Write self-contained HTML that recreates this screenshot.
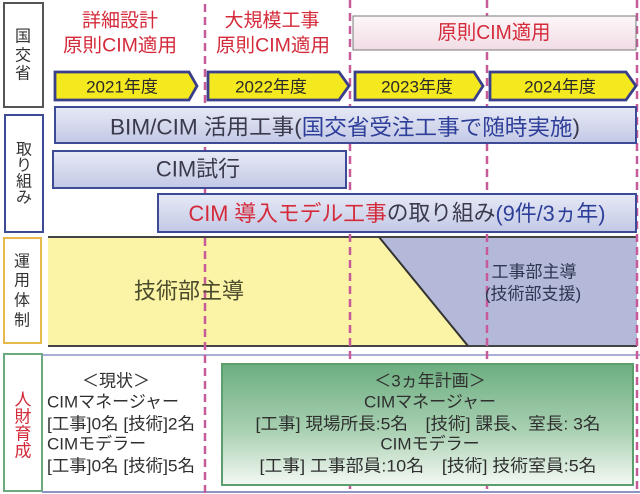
<!DOCTYPE html>
<html><head><meta charset="utf-8"><style>
html,body{margin:0;padding:0;background:#fff;}
svg{display:block;}
text{font-family:"Liberation Sans","Noto Sans CJK JP",sans-serif;}
</style></head><body>
<svg width="640" height="494" viewBox="0 0 640 494" xmlns="http://www.w3.org/2000/svg">
<defs>
<linearGradient id="bar" x1="0" y1="0" x2="0" y2="1">
<stop offset="0" stop-color="#e6e9f5"/><stop offset="1" stop-color="#c3c9e6"/>
</linearGradient>
<linearGradient id="pink" x1="0" y1="0" x2="0" y2="1">
<stop offset="0" stop-color="#fdf7f9"/><stop offset="1" stop-color="#f1dce5"/>
</linearGradient>
<linearGradient id="green" x1="0" y1="0" x2="0" y2="1">
<stop offset="0" stop-color="#6cae80"/><stop offset="0.55" stop-color="#a9d0b2"/><stop offset="1" stop-color="#f3f9f3"/>
</linearGradient>
</defs>
<rect width="640" height="494" fill="#fff"/>

<!-- left label boxes -->
<rect x="4" y="3" width="39" height="104" fill="#fff" stroke="#555" stroke-width="2"/>
<rect x="5" y="115" width="38" height="117" fill="#fff" stroke="#3d4a96" stroke-width="2"/>
<rect x="4" y="238" width="37" height="105" fill="#fff" stroke="#e7b94a" stroke-width="2"/>
<rect x="4" y="354" width="38" height="137" fill="#fff" stroke="#6aaa7c" stroke-width="2"/>

<!-- 運用体制 area -->
<polygon points="48,237 379,237 468,346 48,346" fill="#fbf3a5"/>
<polygon points="379,237 637,237 637,346 468,346" fill="#b4b9d9"/>
<line x1="48" y1="237" x2="637" y2="237" stroke="#444" stroke-width="2"/>
<line x1="48" y1="346" x2="637" y2="346" stroke="#444" stroke-width="2"/>
<line x1="379" y1="237" x2="468" y2="346" stroke="#333" stroke-width="2"/>

<!-- bottom section lines -->
<line x1="42" y1="355" x2="640" y2="355" stroke="#8f93c6" stroke-width="1.5"/>
<line x1="42" y1="492" x2="640" y2="492" stroke="#8f93c6" stroke-width="2"/>

<!-- dashed lines -->
<g stroke="#c75a99" stroke-width="2.5" stroke-dasharray="8,5">
<line x1="205" y1="4" x2="205" y2="494"/>
<line x1="350" y1="0" x2="350" y2="494"/>
<line x1="487" y1="0" x2="487" y2="494"/>
<line x1="637" y1="0" x2="637" y2="494"/>
</g>

<!-- pink box -->
<rect x="353" y="16" width="283" height="34" fill="url(#pink)" stroke="#7a7a7a" stroke-width="1"/>

<!-- arrows -->
<g fill="#f4e81f" stroke="#3a3f8c" stroke-width="2.8" stroke-linejoin="miter">
<polygon points="55,72 189,72 197,86 189,100 55,100"/>
<polygon points="208,72 339,72 349,86 339,100 208,100"/>
<polygon points="355,72 474,72 483,86 474,100 355,100"/>
<polygon points="490,72 626,72 636,86 626,100 490,100"/>
</g>

<!-- bars -->
<g fill="url(#bar)" stroke="#3d4a96" stroke-width="2">
<rect x="55" y="107" width="581" height="36"/>
<rect x="53" y="151" width="293" height="37"/>
<rect x="158" y="194" width="478" height="38"/>
</g>

<!-- green box -->
<rect x="222" y="364" width="411" height="121" fill="url(#green)" stroke="#5c9e6e" stroke-width="2"/>

<!-- texts -->
<g text-anchor="middle" dominant-baseline="central">
<!-- left labels -->
<g font-size="16" fill="#333">
<text x="23" y="37">国</text><text x="23" y="56">交</text><text x="23" y="74">省</text>
</g>
<g font-size="16" fill="#333">
<text x="24" y="150">取</text><text x="24" y="166">り</text><text x="24" y="182">組</text><text x="24" y="198">み</text>
</g>
<g font-size="16" fill="#333">
<text x="22" y="262">運</text><text x="22" y="281">用</text><text x="22" y="301">体</text><text x="22" y="321">制</text>
</g>
<g font-size="17" fill="#d42a3a">
<text x="23" y="400">人</text><text x="23" y="417">財</text><text x="23" y="434">育</text><text x="23" y="451">成</text>
</g>

<!-- red titles -->
<g font-size="19" fill="#d42a3a">
<text x="120" y="21">詳細設計</text>
<text x="120" y="46" textLength="114" lengthAdjust="spacingAndGlyphs">原則CIM適用</text>
<text x="272" y="21">大規模工事</text>
<text x="273" y="46" textLength="114" lengthAdjust="spacingAndGlyphs">原則CIM適用</text>
<text x="494" y="33" font-size="20" textLength="113" lengthAdjust="spacingAndGlyphs">原則CIM適用</text>
</g>

<!-- years -->
<g font-size="17" fill="#2a2a2a">
<text x="122" y="87">2021年度</text>
<text x="271" y="87">2022年度</text>
<text x="417" y="87">2023年度</text>
<text x="560" y="87">2024年度</text>
</g>

<!-- bar texts -->
<text x="345" y="127" font-size="22" fill="#3a3a4c" textLength="470" lengthAdjust="spacingAndGlyphs">BIM/CIM 活用工事(<tspan fill="#2e3f9a">国交省受注工事で随時実施</tspan>)</text>
<text x="198" y="169" font-size="22" fill="#3a3a4c">CIM試行</text>
<text x="397" y="213" font-size="22" fill="#3a3a4c" textLength="417" lengthAdjust="spacingAndGlyphs"><tspan fill="#d42a3a">CIM 導入モデル工事</tspan>の取り組み<tspan fill="#2e3f9a">(9件/3ヵ年)</tspan></text>

<!-- area texts -->
<text x="189" y="291" font-size="22" fill="#4a4a2c">技術部主導</text>
<text x="534" y="272" font-size="17" fill="#2d3550">工事部主導</text>
<text x="533" y="294" font-size="17" fill="#2d3550">(技術部支援)</text>

<!-- green box text -->
<g font-size="17" fill="#2f2f2f">
<text x="430" y="381">＜3ヵ年計画＞</text>
<text x="430" y="402">CIMマネージャー</text>
<text x="428" y="424" textLength="345" lengthAdjust="spacingAndGlyphs">[工事] 現場所長:5名　[技術] 課長、室長: 3名</text>
<text x="430" y="444">CIMモデラー</text>
<text x="428" y="466" textLength="337" lengthAdjust="spacingAndGlyphs">[工事] 工事部員:10名　[技術] 技術室員:5名</text>
</g>
<text x="116" y="381" font-size="17" fill="#2f2f2f">＜現状＞</text>
</g>
<g font-size="17" fill="#2f2f2f" dominant-baseline="central">
<text x="47" y="402">CIMマネージャー</text>
<text x="47" y="424" textLength="148" lengthAdjust="spacingAndGlyphs">[工事]0名 [技術]2名</text>
<text x="47" y="444">CIMモデラー</text>
<text x="47" y="466" textLength="148" lengthAdjust="spacingAndGlyphs">[工事]0名 [技術]5名</text>
</g>
</svg>
</body></html>
